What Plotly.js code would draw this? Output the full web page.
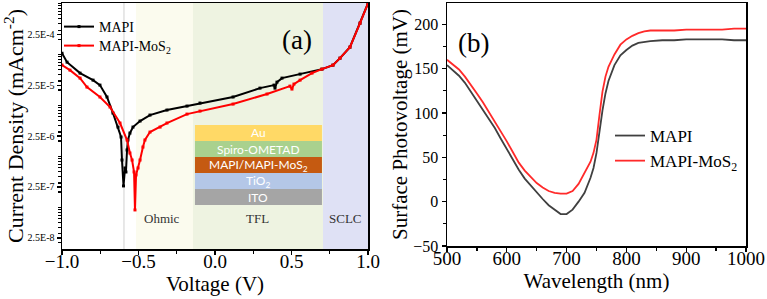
<!DOCTYPE html>
<html><head><meta charset="utf-8">
<script src="https://cdn.plot.ly/plotly-3.0.1.min.js"></script>
<style>html,body{margin:0;padding:0;background:#fff;}#chart{width:767px;height:299px;}</style>
</head><body><div id="chart"></div>
<script>
// ---- Panel (a): J-V (log) ----
const voltMAPI = [-1.0,-0.967,-0.882,-0.797,-0.752,-0.706,-0.667,-0.634,-0.614,-0.608,-0.598,-0.588,-0.582,-0.575,-0.569,-0.556,-0.536,-0.490,-0.425,-0.314,-0.183,-0.098,0.118,0.294,0.386,0.392,0.405,0.438,0.556,0.699,0.771,0.817,0.882,0.948,1.0];
const curMAPI  = [1.06e-4,7.06e-5,4.30e-5,3.13e-5,2.50e-5,1.46e-5,7.07e-6,3.75e-6,2.39e-6,8.45e-7,2.62e-7,5.9e-7,4.92e-7,1.33e-6,2.09e-6,2.86e-6,3.75e-6,4.92e-6,6.45e-6,8.09e-6,9.69e-6,1.11e-5,1.46e-5,2.18e-5,2.50e-5,2.18e-5,2.86e-5,3.43e-5,4.11e-5,5.15e-5,6.17e-5,8.45e-5,1.39e-4,4.11e-4,1.01e-3];
const voltMoS2 = [-1.0,-0.948,-0.882,-0.837,-0.752,-0.686,-0.621,-0.575,-0.556,-0.542,-0.529,-0.523,-0.516,-0.503,-0.490,-0.471,-0.458,-0.425,-0.359,-0.314,-0.183,-0.098,0.118,0.340,0.490,0.503,0.516,0.556,0.634,0.699,0.771,0.817,0.882,0.948,1.0];
const curMoS2  = [6.17e-5,4.92e-5,3.43e-5,2.29e-5,1.46e-5,9.27e-6,4.50e-6,2.09e-6,1.16e-6,8.45e-7,4.92e-7,8.85e-8,4.30e-7,5.9e-7,8.45e-7,1.52e-6,2.09e-6,2.99e-6,3.75e-6,4.50e-6,6.74e-6,7.73e-6,1.06e-5,1.67e-5,2.39e-5,2.09e-5,2.62e-5,3.13e-5,4.30e-5,5.15e-5,6.17e-5,8.45e-5,1.39e-4,4.11e-4,1.01e-3];
const yTickVals = [2.5e-8,2.5e-7,2.5e-6,2.5e-5,2.5e-4];
const yTickText = ['2.5E-8','2.5E-7','2.5E-6','2.5E-5','2.5E-4'];
const regionNames  = ['Ohmic','TFL','SCLC'];
const regionStart  = [-0.516,-0.144,0.706];
const regionEnd    = [-0.144,0.706,1.0];
const regionColors = ['#fbfbee','#eef3e1','#dfe1f5'];
const regionLabelX = [-0.346,0.281,0.850];
const stackLayers = ['Au','Spiro-OMETAD','MAPI/MAPI-MoS<sub>2</sub>','TiO<sub>2</sub>','ITO'];
const stackColors = ['#ffd966','#a9d18e','#c55a11','#b4c7e7','#a5a5a5'];

// ---- Panel (b): SPV ----
const wl = [500,510,520,530,540,550,560,570,580,590,600,610,620,630,640,650,660,670,680,690,700,710,720,730,740,745,750,755,760,765,770,780,790,800,810,820,830,840,860,880,900,920,940,960,980,1000];
const spvMAPI = [154,148,142,134,124,114,104,93,83,71,59,47,36,26,18,10,3,-4,-9,-14,-14,-9,0,10,27,38,55,80,103,122,136,154,165,171,176,179,180,181,182,182,183,183,183,183,182,182];
const spvMoS2 = [160,155,149,141,132,122,112,101,91,80,68,56,44,35,28,21,16,12,10,9,9,12,20,32,45,55,70,98,124,141,152,166,177,183,187,190,192,193,193,193,194,194,194,194,195,195];

const serif = 'Liberation Serif';
const W = 767, H = 299;
const px2x = p => p / W, py2y = p => 1 - p / H;

const traces = [
  {x: voltMAPI, y: curMAPI, name: 'MAPI', mode: 'lines+markers', line: {color: '#000', width: 2}, marker: {symbol: 'square', size: 3, color: '#000'}, xaxis: 'x', yaxis: 'y', legend: 'legend'},
  {x: voltMoS2, y: curMoS2, name: 'MAPI-MoS<sub>2</sub>', mode: 'lines+markers', line: {color: '#ff0000', width: 2}, marker: {symbol: 'square', size: 3, color: '#ff0000'}, xaxis: 'x', yaxis: 'y', legend: 'legend3'},
  {x: wl, y: spvMAPI, name: 'MAPI', mode: 'lines', line: {color: '#404040', width: 1.8}, xaxis: 'x2', yaxis: 'y2', legend: 'legend2'},
  {x: wl, y: spvMoS2, name: 'MAPI-MoS<sub>2</sub>', mode: 'lines', line: {color: '#ff2a2a', width: 1.8}, xaxis: 'x2', yaxis: 'y2', legend: 'legend2'}
];

const shapes = [];
regionNames.forEach((n, i) => shapes.push({type: 'rect', xref: 'x', yref: 'y domain', x0: regionStart[i], x1: regionEnd[i], y0: 0, y1: 1, fillcolor: regionColors[i], line: {width: 0}, layer: 'below'}));
shapes.push({type: 'line', xref: 'x', yref: 'y domain', x0: -0.595, x1: -0.595, y0: 0, y1: 1, line: {color: '#d0d0d0', width: 1}, layer: 'below'});
const stackTop = 125, stackH = 16;
const annotations = [];
stackLayers.forEach((n, i) => {
  const y1 = py2y(stackTop + i * stackH), y0 = py2y(stackTop + (i + 1) * stackH);
  shapes.push({type: 'rect', xref: 'x', yref: 'paper', x0: -0.131, x1: 0.699, y0: y0, y1: y1, fillcolor: stackColors[i], line: {width: 0}, layer: 'above'});
  annotations.push({text: n, xref: 'x', yref: 'paper', x: 0.284, y: (y0 + y1) / 2, showarrow: false, font: {family: 'Lato', size: 12, color: '#fff'}});
});
regionNames.forEach((n, i) => annotations.push({text: n, xref: 'x', yref: 'paper', x: regionLabelX[i], y: py2y(228), showarrow: false, font: {family: serif, size: 13, color: '#333'}}));
annotations.push({text: '(a)', xref: 'paper', yref: 'paper', x: px2x(297), y: py2y(23), showarrow: false, font: {family: serif, size: 27, color: '#000'}});
annotations.push({text: '(b)', xref: 'paper', yref: 'paper', x: px2x(473), y: py2y(26), showarrow: false, font: {family: serif, size: 27, color: '#000'}});

const axBase = {showline: true, linecolor: '#000', linewidth: 1.5, mirror: true, ticks: 'outside', ticklen: 4, tickwidth: 1.2, tickcolor: '#000', showgrid: false, zeroline: false, tickfont: {family: serif, size: 19, color: '#000'}};
const legBase = {xanchor: 'left', yanchor: 'top', bgcolor: 'rgba(0,0,0,0)', tracegroupgap: 0};

const layout = {
  width: W, height: H, margin: {l: 0, r: 0, t: 0, b: 0},
  font: {family: serif, color: '#000'},
  paper_bgcolor: '#fff', plot_bgcolor: 'rgba(0,0,0,0)',
  showlegend: true,
  xaxis: Object.assign({}, axBase, {domain: [px2x(62), px2x(368)], range: [-1, 1], dtick: 0.5, tick0: 0, tickformat: '.1f', ticklabelstandoff: -9, minor: {dtick: 0.25, ticks: 'outside', ticklen: 3, tickcolor: '#000'}, title: {text: 'Voltage (V)', font: {family: serif, size: 21, color: '#000'}, standoff: 0}, anchor: 'y'}),
  yaxis: Object.assign({}, axBase, {type: 'log', domain: [py2y(249), py2y(3)], range: [-7.82, -2.99], tickmode: 'array', tickvals: yTickVals, ticktext: yTickText, tickfont: {family: serif, size: 10, color: '#000'}, minor: {ticks: 'outside', ticklen: 3, tickcolor: '#000', dtick: 'D1'}, title: {text: 'Current Density (mAcm<sup>-2</sup>)', font: {family: serif, size: 22, color: '#000'}, standoff: 0}, anchor: 'x'}),
  xaxis2: Object.assign({}, axBase, {domain: [px2x(447), px2x(746)], range: [500, 1000], dtick: 100, ticklabelstandoff: -9, minor: {dtick: 50, ticks: 'outside', ticklen: 3, tickcolor: '#000'}, title: {text: 'Wavelength (nm)', font: {family: serif, size: 21, color: '#000'}, standoff: 0}, anchor: 'y2'}),
  yaxis2: Object.assign({}, axBase, {domain: [py2y(246), py2y(3)], range: [-50, 224], dtick: 50, tickfont: {family: serif, size: 16, color: '#000'}, minor: {dtick: 25, ticks: 'outside', ticklen: 3, tickcolor: '#000'}, title: {text: 'Surface Photovoltage (mV)', font: {family: serif, size: 21, color: '#000'}, standoff: 0}, anchor: 'x2'}),
  legend: Object.assign({}, legBase, {x: px2x(59), y: py2y(11), font: {family: serif, size: 14, color: '#000'}}),
  legend3: Object.assign({}, legBase, {x: px2x(59), y: py2y(30), font: {family: serif, size: 14, color: '#000'}}),
  legend2: Object.assign({}, legBase, {x: px2x(610), y: py2y(118), font: {family: serif, size: 17, color: '#000'}}),
  shapes: shapes, annotations: annotations
};
Plotly.newPlot('chart', traces, layout, {displayModeBar: false, staticPlot: true});
</script></body></html>
